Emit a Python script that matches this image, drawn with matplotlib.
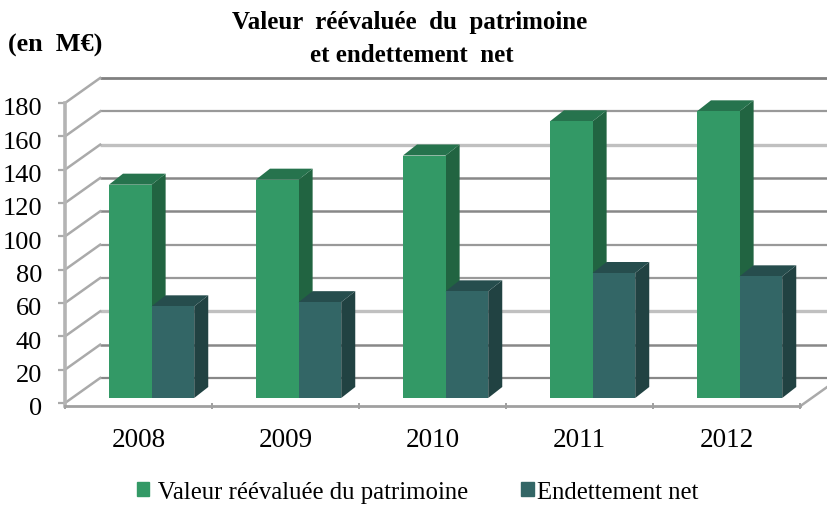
import matplotlib
matplotlib.use('Agg')
import matplotlib.pyplot as plt
from matplotlib.patches import Patch, Polygon
from matplotlib.transforms import ScaledTranslation

years = ['2008', '2009', '2010', '2011', '2012']
patrimoine = [128, 131, 145.5, 166, 172]
endettement = [55, 57.5, 64, 75, 73]
grid_values = [0, 20, 40, 60, 80, 100, 120, 140, 160, 180]
grid_colors = ['#888888', '#888888', '#c0c0c0', '#999999', '#999999',
               '#888888', '#888888', '#c0c0c0', '#999999', '#808080']
grid_widths = [1.6, 1.8, 2.4, 1.6, 1.6, 1.8, 1.8, 2.4, 1.6, 2.0]

plt.rcParams['font.family'] = ['Liberation Serif', 'DejaVu Serif']

W, H = 828, 506
fig = plt.figure(figsize=(W / 100, H / 100), dpi=100)
ax = fig.add_axes([65 / W, (H - 404) / H, 735 / W, 300 / H])
ax.set_xlim(0, 5)
ax.set_ylim(0, 180)

# fausse 3D : decalage du mur du fond et des barres (unites des donnees)
wall_dx, wall_dy = 0.239, 15
bar_dx, bar_dy = 0.0955, 6.6
bar_base = 3
bar_w = 0.29
bar_start = 0.299

for v, c, lw in zip(grid_values, grid_colors, grid_widths):
    ax.plot([wall_dx, 5 + wall_dx], [v + wall_dy, v + wall_dy], color=c, lw=lw,
            clip_on=False, zorder=1, solid_capstyle='butt')
    ax.plot([0, wall_dx], [v, v + wall_dy], color='#aaaaaa', lw=1.8,
            clip_on=False, zorder=1)
# bord droit du sol
ax.plot([5, 5 + wall_dx], [-2, wall_dy - 2], color='#aaaaaa', lw=1.8,
        clip_on=False, zorder=1)


def bar3d(x, val, front, side, top, z):
    ax.bar(x, val, bar_w, bottom=bar_base, align='edge', color=front,
           zorder=z + 0.2, clip_on=False)
    y0, y1 = bar_base, bar_base + val
    ax.add_patch(Polygon([(x + bar_w, y0), (x + bar_w + bar_dx, y0 + bar_dy),
                          (x + bar_w + bar_dx, y1 + bar_dy), (x + bar_w, y1)],
                         color=side, lw=0, zorder=z, clip_on=False))
    ax.add_patch(Polygon([(x, y1), (x + bar_dx, y1 + bar_dy),
                          (x + bar_w + bar_dx, y1 + bar_dy), (x + bar_w, y1)],
                         color=top, lw=0, zorder=z + 0.1, clip_on=False))


for i in range(len(years)):
    bar3d(i + bar_start, patrimoine[i], '#339966', '#216441', '#26734d', 3 + i)
    bar3d(i + bar_start + bar_w, endettement[i], '#336666', '#214242', '#264d4d', 3.5 + i)

for s in ['top', 'right']:
    ax.spines[s].set_visible(False)
ax.patch.set_visible(False)
ax.spines['left'].set_color('#b4b4b4')
ax.spines['left'].set_linewidth(2.6)
ax.spines['bottom'].set_color('#a0a0a0')
ax.spines['bottom'].set_linewidth(2.0)
ax.spines['bottom'].set_position(('data', -2))
ax.spines['left'].set_bounds(-2, 180)

ax.set_yticks(grid_values)
ax.tick_params(axis='y', length=5, width=1.6, color='#aaaaaa', labelsize=19, pad=11.5, labelcolor='black')
down = ScaledTranslation(0, -3 / 100, fig.dpi_scale_trans)
for lab in ax.get_yticklabels():
    lab.set_transform(lab.get_transform() + down)
ax.set_xticks(range(6))
ax.set_xticklabels([])
ax.tick_params(axis='x', which='major', length=4, width=1.4, color='#a0a0a0', direction='inout')
ax.set_xticks([i + 0.5 for i in range(5)], years, minor=True)
ax.tick_params(axis='x', which='minor', length=0, labelsize=19.5, pad=15, labelcolor='black')

fig.text(410 / W, 1 - 22 / H, 'Valeur  réévaluée  du  patrimoine', ha='center', va='center',
         fontsize=18, fontweight='bold', color='black')
fig.text(412 / W, 1 - 55 / H, 'et endettement  net', ha='center', va='center',
         fontsize=18, fontweight='bold', color='black')
fig.text(8 / W, 1 - 45 / H, '(en  M€)', ha='left', va='center',
         fontsize=18.8, fontweight='bold', color='black')

handles = [Patch(color='#339966'), Patch(color='#336666')]
fig.legend(handles, [' Valeur réévaluée du patrimoine', 'Endettement net'],
           loc='center', bbox_to_anchor=(417.5 / W, 1 - 493 / H), ncol=2, frameon=False,
           fontsize=17.8, handlelength=0.5, handleheight=0.5, handletextpad=0.12,
           columnspacing=2.15, borderpad=0, labelcolor='black')

fig.savefig('out.png', dpi=100)
